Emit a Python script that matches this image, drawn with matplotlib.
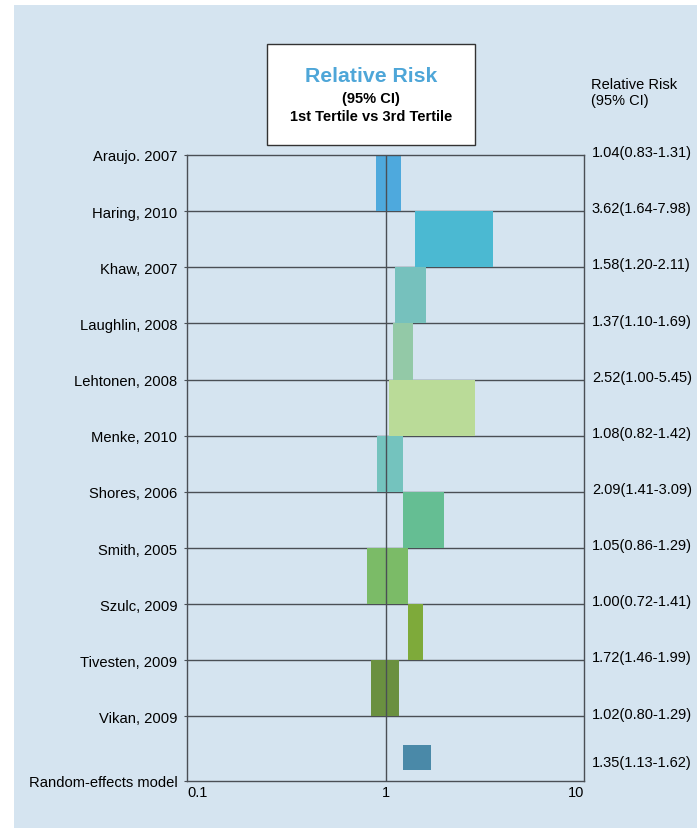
"""Forest plot: relative risk, 1st vs 3rd tertile."""
import matplotlib
matplotlib.use('Agg')
import matplotlib.pyplot as plt
from matplotlib.patches import Rectangle
import matplotlib.transforms as mtransforms

plt.rcParams['font.family'] = ['Liberation Sans', 'DejaVu Sans']

studies = ['Araujo. 2007', 'Haring, 2010', 'Khaw, 2007', 'Laughlin, 2008', 'Lehtonen, 2008',
           'Menke, 2010', 'Shores, 2006', 'Smith, 2005', 'Szulc, 2009', 'Tivesten, 2009', 'Vikan, 2009']
ci_text = ['1.04(0.83-1.31)', '3.62(1.64-7.98)', '1.58(1.20-2.11)', '1.37(1.10-1.69)', '2.52(1.00-5.45)',
           '1.08(0.82-1.42)', '2.09(1.41-3.09)', '1.05(0.86-1.29)', '1.00(0.72-1.41)', '1.72(1.46-1.99)',
           '1.02(0.80-1.29)']
summary_label = 'Random-effects model'
summary_text = '1.35(1.13-1.62)'

# bar extents as drawn in the picture (one bar between each pair of row lines)
bar_lo = [0.90, 1.40, 1.12, 1.09, 1.04, 0.91, 1.22, 0.81, 1.30, 0.85]
bar_hi = [1.20, 3.49, 1.60, 1.37, 2.81, 1.22, 1.98, 1.30, 1.54, 1.17]
bar_colors = ['#4ea9dd', '#4bb9d2', '#76c1bd', '#93c9a7', '#badb98',
              '#74c3be', '#65be93', '#7bbb67', '#7eaa3a', '#6a9040']
summary_lo, summary_hi = 1.23, 1.69
summary_color = '#4a89a8'

BG = '#d5e4f0'
LINE = '#4a4f55'

W, H = 697, 829
fig = plt.figure(figsize=(W / 100, H / 100), dpi=100)
fig.patch.set_facecolor('white')
fig.patches.append(Rectangle((14 / W, -0.01), 1 - 14 / W, (H - 6) / H + 0.01, transform=fig.transFigure,
                             facecolor=BG, edgecolor='none', zorder=-10))

ax = fig.add_axes([187 / W, 47 / H, (584 - 187) / W, (782 - 156) / H])
ax.set_facecolor(BG)
ax.set_xscale('log')
ax.set_xlim(0.1, 10)
ax.set_ylim(11, 0)

n = len(studies)
for i in range(1, n):
    ax.axhline(i, color=LINE, lw=1.0, zorder=1)

for i, (lo, hi, c) in enumerate(zip(bar_lo, bar_hi, bar_colors)):
    ax.barh(i + 0.5, hi - lo, left=lo, height=1.0, color=c, zorder=2)
ax.barh(10.73, summary_hi - summary_lo, left=summary_lo, height=0.46, color=summary_color, zorder=2)

ax.axvline(1, color=LINE, lw=1.0, zorder=3)

for s in ax.spines.values():
    s.set_color(LINE)
    s.set_linewidth(1.0)

ax.set_yticks(list(range(n)) + [11.15])
ax.set_yticklabels(studies + [summary_label], fontsize=10.6)
ax.tick_params(axis='y', length=2, pad=5, color=LINE)

ax.set_xticks([0.1, 1, 10])
ax.set_xticklabels(['0.1', '1', '10'], fontsize=10.5)
ax.xaxis.set_minor_locator(matplotlib.ticker.NullLocator())
ax.tick_params(axis='x', length=0, pad=3)
xl = ax.get_xticklabels()
xl[0].set_ha('left')
xl[2].set_ha('right')

trans = mtransforms.blended_transform_factory(ax.transAxes, ax.transData)
for i, t in enumerate(ci_text):
    ax.text(1.02, i - 0.05, t, transform=trans, ha='left', va='center', fontsize=10.5)
ax.text(1.02, 10.82, summary_text, transform=trans, ha='left', va='center', fontsize=10.5)

# right column header
fig.text(591 / W, 1 - 85 / H, 'Relative Risk', ha='left', va='center', fontsize=10.5)
fig.text(591 / W, 1 - 101 / H, '(95% CI)', ha='left', va='center', fontsize=10.5)

# title box
fig.patches.append(Rectangle((267 / W, 1 - 146 / H), (475 - 267) / W, (146 - 45) / H,
                             transform=fig.transFigure, facecolor='white', edgecolor='#333333',
                             lw=1.0, zorder=5))
fig.text(371 / W, 1 - 77 / H, 'Relative Risk', ha='center', va='center', fontsize=15.3,
         fontweight='bold', color='#4ea6d8', zorder=6)
fig.text(371 / W, 1 - 99 / H, '(95% CI)', ha='center', va='center', fontsize=10.5,
         fontweight='bold', color='black', zorder=6)
fig.text(371 / W, 1 - 117 / H, '1st Tertile vs 3rd Tertile', ha='center', va='center', fontsize=10.5,
         fontweight='bold', color='black', zorder=6)

fig.savefig('out.png', dpi=100)
